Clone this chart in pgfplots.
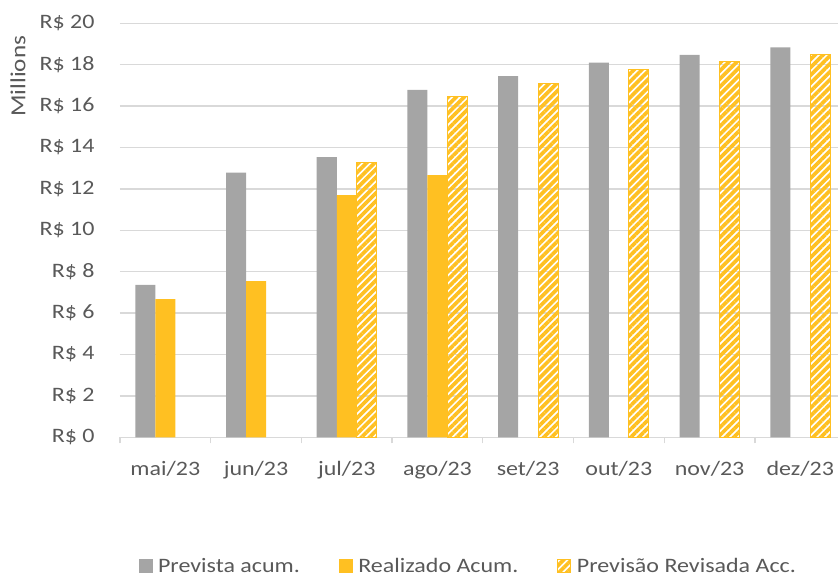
\documentclass[border=0pt]{standalone}
\usepackage{pgfplots}
\pgfplotsset{compat=1.18}
\usetikzlibrary{patterns.meta}
\usepackage{fontspec}
\setmainfont{Carlito}[FakeStretch=1.17]
\definecolor{grayc}{HTML}{A5A5A5}
\definecolor{gold}{HTML}{FFC022}
\definecolor{txt}{HTML}{595959}
\definecolor{gridc}{HTML}{D9D9D9}
\begin{document}
\begin{tikzpicture}
\path[use as bounding box] (-120pt,-139.7pt) rectangle (718pt,437.3pt);
\begin{axis}[
  at={(0,0)}, anchor=south west,
  scale only axis, width=725.6pt, height=414pt,
  xmin=-0.5, xmax=7.5, ymin=0, ymax=20,
  axis x line*=bottom, axis y line*=left,
  y axis line style={draw=none},
  x axis line style={draw=gridc, line width=1.3pt},
  ymajorgrids, grid style={draw=gridc, line width=1.3pt},
  ytick={0,2,...,20},
  yticklabel={R\$ \pgfmathprintnumber[assume math mode=true]{\tick}},
  ytick style={draw=none},
  yticklabel style={anchor=east, inner sep=0pt, xshift=-21pt},
  xtick={0,...,7},
  xticklabels={mai/23,jun/23,jul/23,ago/23,set/23,out/23,nov/23,dez/23},
  major x tick style={draw=none},
  minor xtick={-0.5,0.5,...,7.5},
  minor x tick style={draw=gridc, line width=1.3pt},
  minor tick length=6pt,
  tick align=outside,
  xticklabel style={anchor=north, inner sep=0pt, yshift=-20pt},
  every tick label/.append style={font=\fontsize{20.5}{24}\selectfont, text=txt},
  ybar, bar width=20pt,
  legend columns=3,
  legend style={at={(axis description cs:0.4785,-0.311)}, anchor=center, draw=none,
    font=\fontsize{20.5}{24}\selectfont, text=txt,
    nodes={inner sep=0pt},
    /tikz/every odd column/.append style={column sep=5.5pt},
    /tikz/every even column/.append style={column sep=39pt}},
  clip=false,
]
\addplot[fill=grayc, draw=none, bar shift=-20pt,
  legend image code/.code={\fill[grayc] (0pt,-7pt) rectangle (14pt,7pt);}]
  coordinates {(0,7.36) (1,12.78) (2,13.53) (3,16.78) (4,17.45) (5,18.10) (6,18.47) (7,18.84)};
\addlegendentry{Prevista acum.}
\addplot[fill=gold, draw=none, bar shift=0pt,
  legend image code/.code={\fill[gold] (0pt,-7pt) rectangle (14pt,7pt);}]
  coordinates {(0,6.68) (1,7.55) (2,11.70) (3,12.67)};
\addlegendentry{Realizado Acum.}
\addplot[draw=gold, line width=1pt, pattern={Lines[angle=45,distance=5.6pt,line width=3.7pt]}, pattern color=gold, bar shift=20pt,
  legend image code/.code={\draw[draw=gold, line width=1pt, pattern={Lines[angle=45,distance=5.6pt,line width=3.7pt]}, pattern color=gold] (0.5pt,-6.5pt) rectangle (13.5pt,6.5pt);}]
  coordinates {(2,13.28) (3,16.45) (4,17.10) (5,17.78) (6,18.14) (7,18.50)};
\addlegendentry{Previsão Revisada Acc.}
\node[rotate=90, font=\fontsize{21.5}{26}\selectfont, text=txt] at ([xshift=-102pt]axis description cs:0,0.872) {Millions};
\end{axis}
\end{tikzpicture}
\end{document}
